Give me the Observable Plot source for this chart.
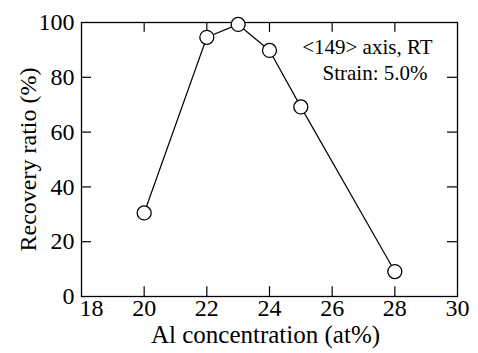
<!DOCTYPE html>
<html>
<head>
<meta charset="utf-8">
<script src="https://cdn.jsdelivr.net/npm/d3@7"></script>
<script src="https://cdn.jsdelivr.net/npm/@observablehq/plot@0.6"></script>
<style>
  html, body { margin: 0; padding: 0; background: #fff; }
  #chart { width: 478px; height: 353px; }
  #chart svg, #chart svg text { font-family: "Liberation Serif", "Times New Roman", serif !important; }
</style>
</head>
<body>
<div id="chart"></div>
<script>
const concentration = [20, 22, 23, 24, 25, 28];
const recovery = [30.5, 94.6, 99.3, 89.8, 69.2, 9.1];
const xTicks = [18, 20, 22, 24, 26, 28, 30];
const yTicks = [0, 20, 40, 60, 80, 100];
const annotationLines = ["<149> axis, RT", "Strain: 5.0%"];
const xLabel = "Al concentration (at%)";
const yLabel = "Recovery ratio (%)";

const points = concentration.map((c, i) => ({x: c, y: recovery[i]}));

const tickLenY = 3.6;   // ~10px in y units
const tickLenX = 0.32;  // ~10px in x units
const serif = "'Liberation Serif', 'Times New Roman', serif";

const chart = Plot.plot({
  width: 478,
  height: 353,
  marginLeft: 81,
  marginRight: 21,
  marginTop: 22,
  marginBottom: 57,
  style: {fontFamily: serif, color: "#000", background: "#fff"},
  x: {domain: [18, 30], axis: null},
  y: {domain: [0, 100]},
  marks: [
    // x tick labels: first one starts at the frame edge, others centred
    Plot.text(xTicks.slice(0, 1), {x: d => d, y: 0, text: d => String(d), textAnchor: "start", lineAnchor: "top", dx: -2, dy: 2, fontSize: 24, fontFamily: serif, fill: "#000"}),
    Plot.text(xTicks.slice(1), {x: d => d, y: 0, text: d => String(d), textAnchor: "middle", lineAnchor: "top", dy: 2, fontSize: 24, fontFamily: serif, fill: "#000"}),
    Plot.text([xLabel], {frameAnchor: "bottom", textAnchor: "middle", lineAnchor: "bottom", dx: -4, dy: 46, fontSize: 25, fontFamily: serif, fill: "#000"}),
    Plot.axisY(yTicks, {tickSize: 0, tickPadding: 7, fontSize: 24, fontFamily: serif, label: yLabel, labelAnchor: "center", labelArrow: "none", labelOffset: 63}),
    Plot.ruleX(xTicks.slice(1, -1), {x: d => d, y1: 0, y2: tickLenY, stroke: "#000", strokeWidth: 1.2}),
    Plot.ruleX(xTicks.slice(1, -1), {x: d => d, y1: 100 - tickLenY, y2: 100, stroke: "#000", strokeWidth: 1.2}),
    Plot.ruleY(yTicks.slice(1, -1), {y: d => d, x1: 18, x2: 18 + tickLenX, stroke: "#000", strokeWidth: 1.2}),
    Plot.ruleY(yTicks.slice(1, -1), {y: d => d, x1: 30 - tickLenX, x2: 30, stroke: "#000", strokeWidth: 1.2}),
    Plot.frame({stroke: "#000", strokeWidth: 1.3}),
    Plot.line(points, {x: "x", y: "y", stroke: "#000", strokeWidth: 1.2}),
    Plot.dot(points, {x: "x", y: "y", r: 7, fill: "#fff", stroke: "#000", strokeWidth: 1.3}),
    Plot.text([annotationLines[0]], {frameAnchor: "top-right", textAnchor: "end", lineAnchor: "top", dx: -25, dy: 17, fontSize: 21, fontFamily: serif, fill: "#000"}),
    Plot.text([annotationLines[1]], {frameAnchor: "top-right", textAnchor: "end", lineAnchor: "top", dx: -30, dy: 43, fontSize: 21, fontFamily: serif, fill: "#000"})
  ]
});
document.getElementById("chart").appendChild(chart);
</script>
</body>
</html>
